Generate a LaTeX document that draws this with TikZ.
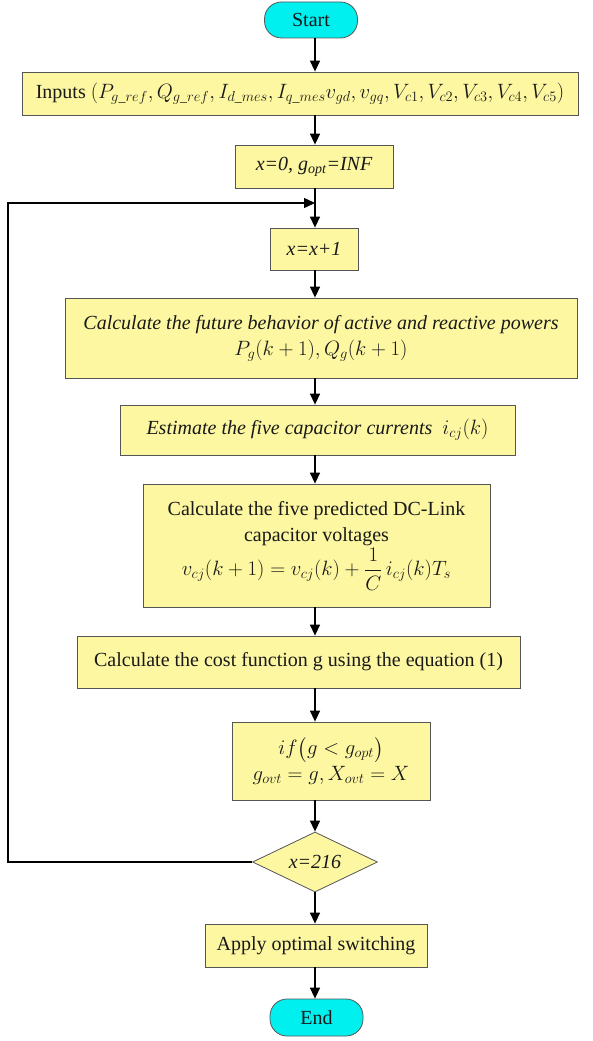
\documentclass[tikz,border=0pt]{standalone}
\usepackage{amsmath}
\usepackage{fontspec}
\setmainfont{Liberation Serif}
\usetikzlibrary{shapes.geometric,arrows.meta}
\definecolor{boxyellow}{RGB}{252,247,160}
\definecolor{termcyan}{RGB}{0,240,240}
\definecolor{edgegray}{RGB}{85,85,85}
\begin{document}
\begin{tikzpicture}[x=1pt,y=-1pt,
  every node/.style={font=\fontsize{20}{26}\selectfont, text=black!90, align=center, inner sep=0pt},
  proc/.style={draw=edgegray, line width=0.8pt, fill=boxyellow},
  term/.style={draw=edgegray, line width=0.8pt, fill=termcyan, rounded corners=17pt},
  decision/.style={draw=edgegray, line width=0.8pt, fill=boxyellow, diamond, aspect=2.1},
  flow/.style={line width=1.4pt, -{Triangle[length=11pt,width=10pt]}}]
\useasboundingbox (0,0) rectangle (593,1041);

\node[term, minimum width=93pt, minimum height=36pt] (start) at (311,20) {Start};
\node[proc, minimum width=556pt, minimum height=43pt] (inputs) at (300,93.5)
  {Inputs $(P_{g\_ref}, Q_{g\_ref}, I_{d\_mes}, I_{q\_mes}v_{gd}, v_{gq}, V_{c1}, V_{c2}, V_{c3}, V_{c4}, V_{c5})$};
\node[proc, minimum width=158pt, minimum height=43pt] (init) at (314,166.5)
  {\itshape x=0, g\textsubscript{opt}=INF};
\node[proc, minimum width=88pt, minimum height=42pt] (inc) at (314,249) {\itshape x=x+1};
\node[proc, minimum width=512pt, minimum height=80pt] (future) at (321,338)
  {\itshape Calculate the future behavior of active and reactive powers\\ $P_g(k+1), Q_g(k+1)$};
\node[proc, minimum width=395pt, minimum height=50pt] (est) at (317.5,430)
  {\itshape Estimate the five capacitor currents\ \ $i_{cj}(k)$};
\node[proc, minimum width=347pt, minimum height=123pt] (pred) at (316.5,545.5)
  {Calculate the five predicted DC-Link\\ capacitor voltages\\[2pt]
   $v_{cj}(k+1) = v_{cj}(k) + \dfrac{1}{C}\, i_{cj}(k)T_s$};
\node[proc, minimum width=443pt, minimum height=52pt] (cost) at (298.5,662)
  {Calculate the cost function g using the equation (1)};
\node[proc, minimum width=198pt, minimum height=78pt] (ifb) at (331,761)
  {$if\bigl(g<g_{opt}\bigr)$\\ $g_{ovt}=g, X_{ovt}=X$};
\node[decision, minimum width=125pt, minimum height=60pt] (dec) at (315,862) {\itshape x=216};
\node[proc, minimum width=222pt, minimum height=43pt] (apply) at (316,945.5)
  {Apply optimal switching};
\node[term, minimum width=93pt, minimum height=37pt] (end) at (316.5,1017.5) {End};

\coordinate (sp) at (315,0);
\coordinate (loopjoin) at (315,203);
\coordinate (loopbl) at (8,862);
\coordinate (looptl) at (8,203);

\draw[flow] (start.south -| sp) -- (inputs.north -| sp);
\draw[flow] (inputs.south -| sp) -- (init.north -| sp);
\draw[flow] (init.south -| sp) -- (inc.north -| sp);
\draw[flow] (inc.south -| sp) -- (future.north -| sp);
\draw[flow] (future.south -| sp) -- (est.north -| sp);
\draw[flow] (est.south -| sp) -- (pred.north -| sp);
\draw[flow] (pred.south -| sp) -- (cost.north -| sp);
\draw[flow] (cost.south -| sp) -- (ifb.north -| sp);
\draw[flow] (ifb.south -| sp) -- (dec.north);
\draw[flow] (dec.south) -- (apply.north -| sp);
\draw[flow] (apply.south -| sp) -- (end.north -| sp);
\draw[flow] (dec.west) -- (loopbl) -- (looptl) -- (loopjoin);
\end{tikzpicture}
\end{document}
